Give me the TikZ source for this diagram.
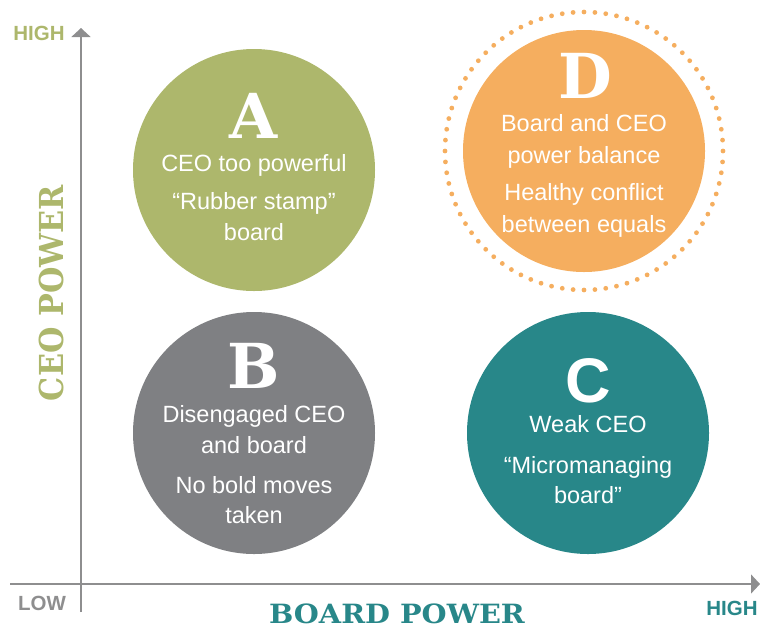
\documentclass[tikz,border=0pt]{standalone}
\usepackage{fontspec}
\usetikzlibrary{arrows.meta}
\setmainfont{Liberation Sans}
\newfontfamily\slabfont{DejaVu Serif}
\definecolor{quadgreen}{HTML}{ADB76C}
\definecolor{quadgray}{HTML}{7F8083}
\definecolor{quadteal}{HTML}{288789}
\definecolor{quadorange}{HTML}{F5AE5F}
\definecolor{axisgray}{HTML}{8E8E8F}
\tikzset{
  bubble/.style={circle, minimum size=242pt, inner sep=0pt, fill=#1},
  letter/.style={anchor=base, text=white, font=\slabfont\bfseries\fontsize{62}{62}\selectfont, inner sep=0pt},
  body/.style={anchor=base, text=white, font=\fontsize{23.5}{31}\selectfont, inner sep=0pt},
  axisline/.style={draw=axisgray, line width=1.5pt},
  axistip/.style={-{Triangle[length=9pt,width=19pt]}},
  ticklabel/.style={font=\bfseries\fontsize{20.5}{20.5}\selectfont, inner sep=0pt, anchor=base},
  axistitle/.style={font=\slabfont\bfseries\fontsize{#1}{#1}\selectfont, inner sep=0pt}
}
\begin{document}
\begin{tikzpicture}[x=1pt, y=-1pt]
  \useasboundingbox (0,0) rectangle (760,625);

  % axes
  \coordinate (ybottom) at (81,612);
  \coordinate (ytop) at (81,28);
  \coordinate (xleft) at (10,584);
  \coordinate (xright) at (760,584);
  \draw[axisline, axistip] (ybottom) -- (ytop);
  \draw[axisline, axistip] (xleft) -- (xright);

  % axis labels
  \node[ticklabel, text=quadgreen] (yhigh) at (39,40) {HIGH};
  \node[ticklabel, text=axisgray] (low) at (42,610) {LOW};
  \node[ticklabel, text=quadteal] (xhigh) at (732,615) {HIGH};
  \node[axistitle=33, text=quadgreen, rotate=90, xscale=0.92] (ytitle) at (51,293) {CEO POWER};
  \node[axistitle=26.5, text=quadteal, anchor=base, xscale=1.085] (xtitle) at (397,623) {BOARD POWER};

  % quadrant A
  \node[bubble=quadgreen] (A) at (254,170) {};
  \node[letter] (Aletter) at (254,138) {A};
  \node[body] (a1) at (254,171) {CEO too powerful};
  \node[body] (a2) at (254,209) {“Rubber stamp”};
  \node[body] (a3) at (254,240) {board};

  % quadrant B
  \node[bubble=quadgray] (B) at (254,433) {};
  \node[letter] (Bletter) at (254,388) {B};
  \node[body] (b1) at (254,422) {Disengaged CEO};
  \node[body] (b2) at (254,453) {and board};
  \node[body] (b3) at (254,493) {No bold moves};
  \node[body] (b4) at (254,523) {taken};

  % quadrant C
  \node[bubble=quadteal] (C) at (588,433) {};
  \node[letter, font=\bfseries\fontsize{63}{63}\selectfont] (Cletter) at (588,402) {C};
  \node[body] (c1) at (588,432) {Weak CEO};
  \node[body] (c2) at (588,473) {“Micromanaging};
  \node[body] (c3) at (588,503) {board”};

  % quadrant D with dotted halo
  \node[bubble=quadorange] (D) at (584,151) {};
  \foreach \k in {0,...,79}
    \fill[quadorange] (D.center) ++(\k*4.5:139) circle (2.4);
  \node[letter] (Dletter) at (585,98) {D};
  \node[body] (d1) at (584,131) {Board and CEO};
  \node[body] (d2) at (584,163) {power balance};
  \node[body] (d3) at (584,200) {Healthy conflict};
  \node[body] (d4) at (584,232) {between equals};
\end{tikzpicture}
\end{document}
